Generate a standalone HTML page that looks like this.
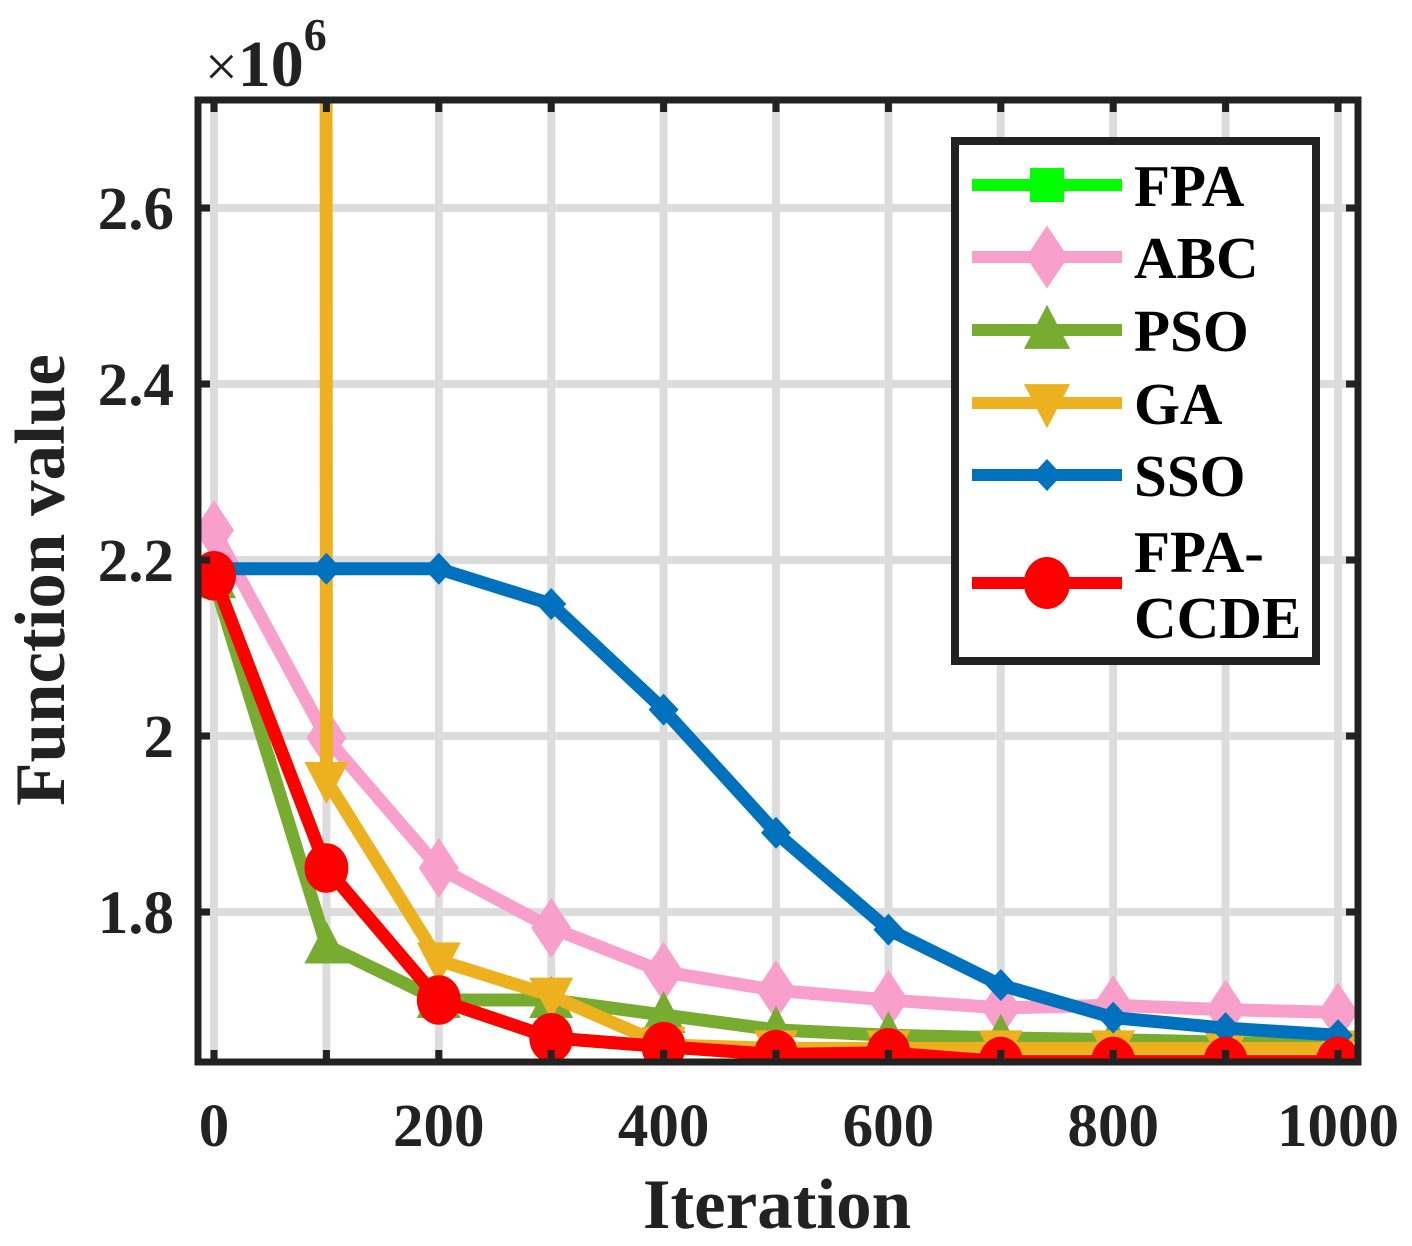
<!DOCTYPE html>
<html><head><meta charset="utf-8"><style>
html,body{margin:0;padding:0;background:#fff;}
svg{display:block;font-family:"Liberation Serif",serif;font-weight:bold;}
</style></head><body>
<svg id="chart" width="1412" height="1246" viewBox="0 0 1412 1246">
<defs><clipPath id="pc"><rect x="201" y="103" width="1154" height="956"/></clipPath></defs>
<g id="grid"></g>
<g id="series" clip-path="url(#pc)"></g>
<g id="axes"></g>
<text x="205" y="86" font-size="58" font-weight="normal" fill="#222">×<tspan font-weight="bold" font-size="66">10</tspan><tspan font-size="46" dy="-36" font-weight="bold">6</tspan></text>
<text x="777" y="1228" font-size="71" text-anchor="middle" fill="#222">Iteration</text>
<text transform="translate(64,580) rotate(-90)" font-size="71" text-anchor="middle" fill="#222">Function value</text>
<g id="legend"></g>
</svg>
<script>
const xs = [0,100,200,300,400,500,600,700,800,900,1000];
const seriesNames = ["FPA","ABC","PSO","GA","SSO","FPA-CCDE"];
const fpa = [2.182,1.85,1.70,1.657,1.647,1.638,1.640,1.630,1.630,1.630,1.630];
const abc = [2.234,1.998,1.85,1.782,1.732,1.711,1.70,1.691,1.694,1.689,1.686];
const pso = [2.177,1.762,1.70,1.70,1.683,1.666,1.66,1.657,1.655,1.652,1.649];
const ga = [300,1.95,1.745,1.705,1.649,1.645,1.645,1.645,1.645,1.645,1.645];
const sso = [2.19,2.19,2.19,2.15,2.03,1.89,1.78,1.717,1.68,1.668,1.66];
const ccde = [2.182,1.85,1.70,1.657,1.647,1.638,1.640,1.630,1.630,1.630,1.630];
const xTicks = [0,200,400,600,800,1000];
const xGrid = [0,100,200,300,400,500,600,700,800,900,1000];
const yTicks = [1.8,2,2.2,2.4,2.6];
const yTickLabels = ["1.8","2","2.2","2.4","2.6"];

const X = v => 214 + (v/1000)*1124;
const Y = v => 912 - (v-1.8)*880;
const NS="http://www.w3.org/2000/svg";
function mk(tag, attrs, parent){const e=document.createElementNS(NS,tag);for(const k in attrs)e.setAttribute(k,attrs[k]);parent.appendChild(e);return e;}
const grid=document.getElementById('grid'), ser=document.getElementById('series'), axes=document.getElementById('axes'), leg=document.getElementById('legend');

xGrid.forEach(v=>{const l=mk('line',{x1:X(v),x2:X(v),y1:100,y2:1062,stroke:'#dcdcdc','stroke-width':8},grid);

});
yTicks.forEach(v=>{const l=mk('line',{x1:198,x2:1358,y1:Y(v),y2:Y(v),stroke:'#dcdcdc','stroke-width':8},grid);

});

function marker(type,cx,cy,color,parent,s){
  let e;
  if(type==='square') e=mk('rect',{x:cx-s*0.5,y:cy-s*0.5,width:s,height:s,fill:color},parent);
  else if(type==='diamond') e=mk('polygon',{points:`${cx},${cy-s*0.75} ${cx+s*0.5},${cy} ${cx},${cy+s*0.75} ${cx-s*0.5},${cy}`,fill:color},parent);
  else if(type==='up') e=mk('polygon',{points:`${cx},${cy-s*0.6} ${cx+s*0.55},${cy+s*0.45} ${cx-s*0.55},${cy+s*0.45}`,fill:color},parent);
  else if(type==='down') e=mk('polygon',{points:`${cx},${cy+s*0.6} ${cx+s*0.55},${cy-s*0.45} ${cx-s*0.55},${cy-s*0.45}`,fill:color},parent);
  else if(type==='x') e=mk('polygon',{points:`${cx-15},${cy} ${cx},${cy-16} ${cx+15},${cy} ${cx},${cy+16}`,fill:color},parent);
  else e=mk('ellipse',{cx:cx,cy:cy,rx:s*0.55,ry:s*0.62,fill:color},parent);
  return e;
}
const defs=[
 {vals:fpa,color:'#00ff00',m:'square',name:'FPA',s:28},
 {vals:abc,color:'#f99fcb',m:'diamond',name:'ABC',s:40},
 {vals:pso,color:'#77ac30',m:'up',name:'PSO',s:40},
 {vals:ga,color:'#edb120',m:'down',name:'GA',s:40},
 {vals:sso,color:'#0072bd',m:'x',name:'SSO',s:40},
 {vals:ccde,color:'#ff0000',m:'circle',name:'FPA-CCDE',s:40}
];
defs.forEach(d=>{
  const g=mk('g',{},ser);
  
  
  const pts=xs.map((x,i)=>X(x)+','+Y(d.vals[i])).join(' ');
  const pl=mk('polyline',{points:pts,fill:'none',stroke:d.color,'stroke-width':13,'stroke-linejoin':'round'},g);
  
  
  xs.forEach((x,i)=>{const m=marker(d.m,X(x),Y(d.vals[i]),d.color,g,d.s);
    
    });
});

const box=mk('rect',{x:198,y:100,width:1160,height:962,fill:'none',stroke:'#222','stroke-width':7},axes);


xGrid.forEach(v=>{
  const t1=mk('line',{x1:X(v),x2:X(v),y1:1062,y2:1050,stroke:'#222','stroke-width':7},axes);
  
  
  const t2=mk('line',{x1:X(v),x2:X(v),y1:100,y2:112,stroke:'#222','stroke-width':7},axes);
  
  
});
xTicks.forEach(v=>{const t=mk('text',{x:X(v),y:1146,'font-size':61,'text-anchor':'middle',fill:'#222'},axes);t.textContent=v;
  
  });
yTicks.forEach((v,i)=>{
  const t1=mk('line',{x1:198,x2:210,y1:Y(v),y2:Y(v),stroke:'#222','stroke-width':7},axes);
  
  
  const t2=mk('line',{x1:1346,x2:1358,y1:Y(v),y2:Y(v),stroke:'#222','stroke-width':7},axes);
  
  
  const t=mk('text',{x:174,y:Y(v)+21,'font-size':61,'text-anchor':'end',fill:'#222'},axes);t.textContent=yTickLabels[i];
  
  
});

const lb=mk('rect',{x:955,y:141,width:361,height:520,fill:'#fff',stroke:'#222','stroke-width':8},leg);


const rows=[185,257,330,403,475,583];
defs.forEach((d,i)=>{
  const g=mk('g',{},leg);
  
  
  mk('line',{x1:972,x2:1122,y1:rows[i],y2:rows[i],stroke:d.color,'stroke-width':12},g);
  const size = d.m==='square'?34:42;
  marker(d.m,1047,rows[i],d.color,g,size);
  if(d.name==='FPA-CCDE'){
    const t=mk('text',{x:1134,y:572,'font-size':59,fill:'#000'},g);t.textContent='FPA-';
    const t2=mk('text',{x:1134,y:638,'font-size':59,fill:'#000'},g);t2.textContent='CCDE';
  } else {
    const t=mk('text',{x:1134,y:rows[i]+21,'font-size':59,fill:'#000'},g);t.textContent=d.name;
  }
});
</script>
</body></html>
